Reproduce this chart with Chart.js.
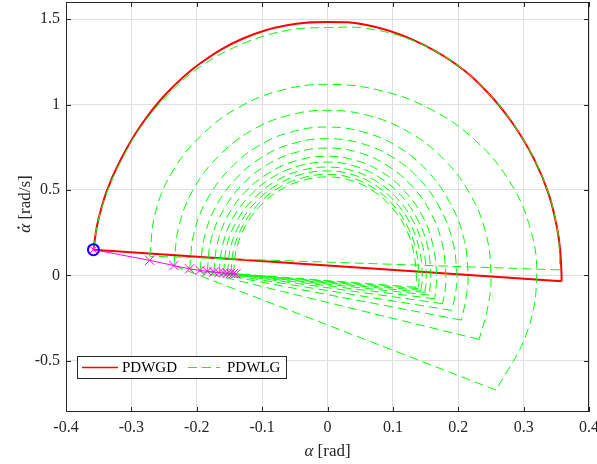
<!DOCTYPE html>
<html>
<head>
<meta charset="utf-8">
<script src="https://cdn.jsdelivr.net/npm/chart.js@4.4.1/dist/chart.umd.min.js"></script>
<style>
  html, body { margin: 0; padding: 0; background: #fff; }
  canvas { display: block; }
</style>
</head>
<body>
<canvas id="phase" width="597" height="464"></canvas>
<script>
// tick labels
const xTicks = [-0.4, -0.3, -0.2, -0.1, 0, 0.1, 0.2, 0.3, 0.4];
const yTicks = [-0.5, 0, 0.5, 1, 1.5];

// PDWGD limit cycle (alpha, alpha dot)
const gdArc = [
  [-0.358, 0.150], [-0.352, 0.30], [-0.338, 0.49], [-0.316, 0.68], [-0.285, 0.88],
  [-0.245, 1.07], [-0.195, 1.24], [-0.13, 1.385], [-0.06, 1.465], [0.0, 1.483],
  [0.06, 1.465], [0.13, 1.38], [0.195, 1.24], [0.245, 1.07], [0.285, 0.88],
  [0.316, 0.68], [0.338, 0.48], [0.351, 0.28], [0.356, 0.14], [0.358, 0.0], [0.358, -0.035]
];
const gdImpact = [[0.358, -0.035], [-0.358, 0.150]];

// PDWLG steps, one arc per step
const lgArc1 = [
  [-0.358, 0.150], [-0.353, 0.28], [-0.339, 0.47], [-0.317, 0.66], [-0.287, 0.86],
  [-0.247, 1.045], [-0.197, 1.215], [-0.13, 1.355], [-0.06, 1.435], [0.0, 1.45],
  [0.06, 1.445], [0.13, 1.375], [0.195, 1.24], [0.245, 1.07], [0.285, 0.88],
  [0.316, 0.68], [0.338, 0.48], [0.351, 0.28], [0.355, 0.13], [0.355, 0.032]
];
const lgArc2 = [
  [-0.272, 0.112], [-0.263, 0.373], [-0.236, 0.615], [-0.192, 0.823], [-0.136, 0.983], [-0.070, 1.084], [0, 1.118],
  [0.083, 1.080], [0.160, 0.968], [0.226, 0.790], [0.277, 0.559], [0.309, 0.290], [0.320, 0], [0.305, -0.336], [0.258, -0.672]
];
const lgArc3 = [
  [-0.235, 0.057], [-0.227, 0.292], [-0.204, 0.512], [-0.166, 0.700], [-0.118, 0.844], [-0.061, 0.935], [0, 0.966],
  [0.065, 0.933], [0.125, 0.837], [0.177, 0.683], [0.217, 0.483], [0.242, 0.250], [0.250, 0], [0.245, -0.19], [0.232, -0.375]
];
const lgArc4 = [
  [-0.211, 0.038], [-0.204, 0.253], [-0.183, 0.453], [-0.149, 0.625], [-0.106, 0.757], [-0.055, 0.840], [0, 0.868],
  [0.056, 0.838], [0.108, 0.752], [0.152, 0.614], [0.186, 0.434], [0.208, 0.225], [0.215, 0], [0.212, -0.13], [0.205, -0.262]
];
const lgArc5 = [
  [-0.195, 0.029], [-0.188, 0.229], [-0.169, 0.415], [-0.138, 0.574], [-0.098, 0.697], [-0.051, 0.774], [0, 0.800],
  [0.051, 0.773], [0.099, 0.693], [0.140, 0.566], [0.171, 0.400], [0.191, 0.207], [0.198, 0], [0.196, -0.10], [0.190, -0.205]
];
const lgArc6 = [
  [-0.184, 0.023], [-0.178, 0.210], [-0.159, 0.384], [-0.130, 0.533], [-0.092, 0.648], [-0.048, 0.720], [0, 0.745],
  [0.047, 0.720], [0.0905, 0.645], [0.128, 0.527], [0.157, 0.373], [0.175, 0.193], [0.181, 0], [0.180, -0.083], [0.176, -0.166]
];
const lgArc7 = [
  [-0.174, 0.020], [-0.168, 0.195], [-0.151, 0.359], [-0.123, 0.499], [-0.087, 0.606], [-0.045, 0.674], [0, 0.697],
  [0.043, 0.673], [0.0835, 0.604], [0.118, 0.493], [0.145, 0.349], [0.161, 0.181], [0.167, 0], [0.166, -0.07], [0.164, -0.137]
];
const lgArc8 = [
  [-0.166, 0.016], [-0.160, 0.184], [-0.144, 0.340], [-0.117, 0.473], [-0.083, 0.576], [-0.043, 0.641], [0, 0.663],
  [0.041, 0.640], [0.079, 0.574], [0.112, 0.469], [0.137, 0.332], [0.153, 0.172], [0.158, 0], [0.157, -0.06], [0.156, -0.116]
];
const lgArc9 = [
  [-0.159, 0.014], [-0.154, 0.175], [-0.138, 0.324], [-0.112, 0.452], [-0.0795, 0.551], [-0.041, 0.613], [0, 0.634],
  [0.039, 0.612], [0.0755, 0.549], [0.107, 0.448], [0.131, 0.317], [0.146, 0.164], [0.151, 0], [0.149, -0.100]
];
const lgArc10 = [
  [-0.153, 0.012], [-0.148, 0.167], [-0.1325, 0.312], [-0.108, 0.436], [-0.0765, 0.531], [-0.040, 0.591], [0, 0.611],
  [0.038, 0.590], [0.0725, 0.529], [0.103, 0.432], [0.126, 0.306], [0.140, 0.158], [0.145, 0], [0.143, -0.088]
];
const lgArc11 = [
  [-0.148, 0.011], [-0.143, 0.161], [-0.128, 0.301], [-0.105, 0.421], [-0.074, 0.513], [-0.038, 0.571], [0, 0.591],
  [0.036, 0.571], [0.070, 0.512], [0.099, 0.418], [0.121, 0.296], [0.135, 0.153], [0.140, 0], [0.139, -0.078]
];
const lgArc12 = [
  [-0.144, 0.010], [-0.139, 0.157], [-0.125, 0.293], [-0.102, 0.410], [-0.072, 0.500], [-0.037, 0.557], [0, 0.576],
  [0.035, 0.556], [0.068, 0.499], [0.096, 0.407], [0.118, 0.288], [0.131, 0.149], [0.136, 0], [0.135, -0.070]
];

// post-impact states (magenta crosses) and the initial state (blue circle)
const lgMarkers = [
  [-0.358, 0.150], [-0.272, 0.088], [-0.235, 0.057], [-0.211, 0.038], [-0.195, 0.029],
  [-0.184, 0.023], [-0.174, 0.020], [-0.166, 0.016], [-0.159, 0.014], [-0.153, 0.012],
  [-0.148, 0.011], [-0.144, 0.010], [-0.140, 0.009]
];
const initState = [[-0.358, 0.150]];

const FONT = "'Liberation Serif', 'Times New Roman', serif";
const GAP = { x: null, y: null };
const pts = arr => arr.map(p => ({ x: p[0], y: p[1] }));

// arcs are smoothed, impact jumps stay straight (separate 2-point pieces)
const gdData = [...pts(gdArc), GAP, ...pts(gdImpact)];

const lgArcs = [lgArc1, lgArc2, lgArc3, lgArc4, lgArc5, lgArc6, lgArc7, lgArc8, lgArc9, lgArc10, lgArc11, lgArc12];
const lgData = [];
lgArcs.forEach((arc, i) => {
  const end = arc[arc.length - 1];
  const next = i + 1 < lgArcs.length ? lgArcs[i + 1][0] : lgMarkers[lgMarkers.length - 1];
  lgData.push(...pts(arc), GAP, ...pts([end, next]), GAP);
});

// keep chart.js from shrinking the plot for label overhang
function fixBox(size) {
  return s => {
    if (s.isHorizontal()) s.height = size; else s.width = size;
    s.paddingLeft = s.paddingRight = s.paddingTop = s.paddingBottom = 0;
  };
}

const matlabFrame = {
  id: 'matlabFrame',
  afterDraw(chart) {
    const { ctx, chartArea: a, scales } = chart;
    ctx.save();
    ctx.strokeStyle = '#262626';
    ctx.lineWidth = 1;
    ctx.strokeRect(a.left + 0.5, a.top + 0.5, a.right - a.left - 1, a.bottom - a.top - 1);

    // inward tick marks on all four sides
    ctx.beginPath();
    xTicks.forEach(v => {
      const px = Math.round(scales.x.getPixelForValue(v)) + 0.5;
      ctx.moveTo(px, a.bottom); ctx.lineTo(px, a.bottom - 5);
      ctx.moveTo(px, a.top); ctx.lineTo(px, a.top + 5);
    });
    yTicks.forEach(v => {
      const py = Math.round(scales.y.getPixelForValue(v)) + 0.5;
      ctx.moveTo(a.left, py); ctx.lineTo(a.left + 5, py);
      ctx.moveTo(a.right, py); ctx.lineTo(a.right - 5, py);
    });
    ctx.stroke();

    // axis titles, alpha in italic
    ctx.fillStyle = '#262626';
    ctx.textBaseline = 'alphabetic';
    const greek = 'italic 17px ' + FONT, roman = '17px ' + FONT;
    ctx.font = greek; const wa = ctx.measureText('α').width;
    ctx.font = roman; const wr = ctx.measureText(' [rad]').width;
    let x0 = (a.left + a.right) / 2 - (wa + wr) / 2;
    ctx.font = greek; ctx.fillText('α', x0, 456);
    ctx.font = roman; ctx.fillText(' [rad]', x0 + wa, 456);

    ctx.save();
    ctx.translate(30, 204);
    ctx.rotate(-Math.PI / 2);
    ctx.font = roman; const wr2 = ctx.measureText(' [rad/s]').width;
    x0 = -(wa + wr2) / 2;
    ctx.font = greek; ctx.fillText('α', x0, 0);
    // dot accent over alpha
    ctx.beginPath();
    ctx.arc(x0 + wa * 0.58, -11.5, 1.2, 0, Math.PI * 2);
    ctx.fill();
    ctx.font = roman; ctx.fillText(' [rad/s]', x0 + wa, 0);
    ctx.restore();

    // legend box
    const lx = a.left + 11, ly = a.bottom - 56, lw = 209, lh = 22;
    ctx.fillStyle = '#fff';
    ctx.fillRect(lx, ly, lw, lh);
    ctx.strokeStyle = '#262626';
    ctx.strokeRect(lx + 0.5, ly + 0.5, lw, lh);
    const my = ly + lh / 2 + 0.5;
    ctx.lineWidth = 1.5;
    ctx.strokeStyle = '#ff0000';
    ctx.beginPath(); ctx.moveTo(lx + 5, my); ctx.lineTo(lx + 41, my); ctx.stroke();
    ctx.lineWidth = 1;
    ctx.strokeStyle = '#00ff00';
    ctx.setLineDash([9, 5]);
    ctx.beginPath(); ctx.moveTo(lx + 111, my); ctx.lineTo(lx + 143, my); ctx.stroke();
    ctx.setLineDash([]);
    ctx.fillStyle = '#000';
    ctx.font = '15px ' + FONT;
    ctx.textBaseline = 'middle';
    ctx.fillText('PDWGD', lx + 45, my + 1);
    ctx.fillText('PDWLG', lx + 150, my + 1);
    ctx.restore();
  }
};

new Chart(document.getElementById('phase'), {
  type: 'line',
  data: {
    datasets: [
      {
        label: 'PDWGD',
        data: gdData,
        borderColor: '#ff0000',
        borderWidth: 2,
        pointRadius: 0,
        tension: 0.4,
        fill: false,
        order: 4
      },
      {
        label: 'PDWLG',
        data: lgData,
        borderColor: '#00ff00',
        borderWidth: 1,
        borderDash: [9, 5],
        pointRadius: 0,
        tension: 0.4,
        fill: false,
        order: 3
      },
      {
        label: 'steps',
        data: pts(lgMarkers),
        borderColor: '#ff00ff',
        borderWidth: 1,
        pointStyle: 'crossRot',
        pointRadius: 6.5,
        pointBorderColor: '#ff00ff',
        pointBorderWidth: 1,
        tension: 0,
        fill: false,
        order: 2
      },
      {
        label: 'start',
        data: pts(initState),
        showLine: false,
        pointStyle: 'circle',
        pointRadius: 5.5,
        pointBorderWidth: 2,
        pointBorderColor: '#0000ff',
        pointBackgroundColor: 'rgba(0,0,0,0)',
        order: 1
      }
    ]
  },
  options: {
    responsive: false,
    animation: false,
    devicePixelRatio: 1,
    layout: { autoPadding: false, padding: { left: 0, right: 8, top: 2, bottom: 0 } },
    plugins: {
      legend: { display: false },
      tooltip: { enabled: false }
    },
    scales: {
      x: {
        type: 'linear',
        min: -0.4,
        max: 0.4,
        afterBuildTicks: s => { s.ticks = xTicks.map(v => ({ value: v })); },
        afterFit: fixBox(52),
        ticks: {
          callback: v => String(v),
          font: { family: FONT, size: 16 },
          color: '#262626',
          padding: 6,
          maxRotation: 0
        },
        grid: { color: '#dfdfdf', drawTicks: false },
        border: { display: false }
      },
      y: {
        type: 'linear',
        min: -0.8,
        max: 1.6,
        afterBuildTicks: s => { s.ticks = yTicks.map(v => ({ value: v })); },
        afterFit: fixBox(66),
        ticks: {
          callback: v => String(v),
          font: { family: FONT, size: 16 },
          color: '#262626',
          padding: 6
        },
        grid: { color: '#dfdfdf', drawTicks: false },
        border: { display: false }
      }
    }
  },
  plugins: [matlabFrame]
});
</script>
</body>
</html>
